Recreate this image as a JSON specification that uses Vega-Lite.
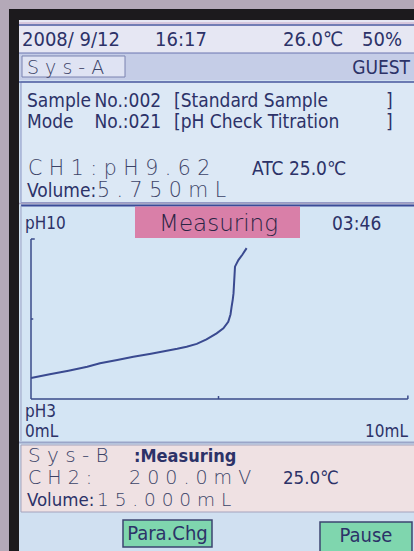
{
"$schema":"https://vega.github.io/schema/vega-lite/v6.json",
"width":414,"height":551,"padding":0,"autosize":"none",
"background":"#b4a9b8",
"config":{"view":{"stroke":null},"axis":{"disable":true},"text":{"font":"DejaVu Sans Condensed, sans-serif","color":"#2c3268","align":"left","baseline":"alphabetic"}},
"data":{"values":[{}]},
"layer":[
{"mark":{"type":"rect","fill":"#1c1a1d"},"encoding":{"x":{"datum":-0.5867,"type":"quantitative","scale":{"domain":[-0.82667,10.21333],"nice":false,"zero":false},"axis":null},"x2":{"datum":10.2133},"y":{"datum":20.0625,"type":"quantitative","scale":{"domain":[-3.65,20.45625],"nice":false,"zero":false},"axis":null},"y2":{"datum":-3.65}}},
{"mark":{"type":"rect","fill":"#d0e0f1"},"encoding":{"x":{"datum":-0.32,"type":"quantitative"},"x2":{"datum":10.2133},"y":{"datum":19.5813,"type":"quantitative"},"y2":{"datum":-3.65}}},
{"mark":{"type":"rect","fill":"#e6e7f3"},"encoding":{"x":{"datum":-0.32,"type":"quantitative"},"x2":{"datum":10.2133},"y":{"datum":19.5813,"type":"quantitative"},"y2":{"datum":18.1375}}},
{"mark":{"type":"rule","stroke":"#c8a8c8","strokeWidth":1},"encoding":{"x":{"datum":-0.32,"type":"quantitative"},"x2":{"datum":10.2133},"y":{"datum":19.45,"type":"quantitative"}}},
{"mark":{"type":"rule","stroke":"#4a5aa0","strokeWidth":1.5},"encoding":{"x":{"datum":-0.32,"type":"quantitative"},"x2":{"datum":10.2133},"y":{"datum":19.3625,"type":"quantitative"}}},
{"mark":{"type":"rect","fill":"#c5cde7"},"encoding":{"x":{"datum":-0.32,"type":"quantitative"},"x2":{"datum":10.2133},"y":{"datum":18.1375,"type":"quantitative"},"y2":{"datum":16.9563}}},
{"mark":{"type":"rule","stroke":"#6a74b0","strokeWidth":1},"encoding":{"x":{"datum":-0.32,"type":"quantitative"},"x2":{"datum":10.2133},"y":{"datum":18.1375,"type":"quantitative"}}},
{"mark":{"type":"rect","fill":"#dfe3f3","stroke":"#7a82b0","strokeWidth":1},"encoding":{"x":{"datum":-0.24,"type":"quantitative"},"x2":{"datum":2.5067},"y":{"datum":18.0063,"type":"quantitative"},"y2":{"datum":17.0875}}},
{"mark":{"type":"rect","fill":"#dce8f5","stroke":"#8a94c4","strokeWidth":1},"encoding":{"x":{"datum":-0.2667,"type":"quantitative"},"x2":{"datum":10.3},"y":{"datum":16.8688,"type":"quantitative"},"y2":{"datum":11.5938}}},
{"mark":{"type":"rule","stroke":"#5565a5","strokeWidth":1.5},"encoding":{"x":{"datum":-0.32,"type":"quantitative"},"x2":{"datum":10.2133},"y":{"datum":16.8688,"type":"quantitative"}}},
{"mark":{"type":"rect","fill":"#d4e5f4"},"encoding":{"x":{"datum":-0.32,"type":"quantitative"},"x2":{"datum":10.2133},"y":{"datum":11.5,"type":"quantitative"},"y2":{"datum":1.1}}},
{"mark":{"type":"rule","stroke":"#a8a4c4","strokeWidth":1.5},"encoding":{"x":{"datum":-0.32,"type":"quantitative"},"x2":{"datum":10.2133},"y":{"datum":11.55,"type":"quantitative"}}},
{"mark":{"type":"rule","stroke":"#3b4b98","strokeWidth":2},"encoding":{"x":{"datum":-0.2667,"type":"quantitative"},"x2":{"datum":10.2133},"y":{"datum":11.4625,"type":"quantitative"}}},
{"mark":{"type":"rule","stroke":"#9aa0c4","strokeWidth":1},"encoding":{"x":{"datum":-0.2667,"type":"quantitative"},"y":{"datum":11.4625,"type":"quantitative"},"y2":{"datum":1.1625}}},
{"mark":{"type":"rect","fill":"#d97fa8"},"encoding":{"x":{"datum":2.7733,"type":"quantitative"},"x2":{"datum":7.1733},"y":{"datum":11.4188,"type":"quantitative"},"y2":{"datum":10.0438}}},
{"mark":{"type":"rule","stroke":"#9aa5c8","strokeWidth":2},"encoding":{"x":{"datum":-0.32,"type":"quantitative"},"x2":{"datum":10.2133},"y":{"datum":1.1,"type":"quantitative"}}},
{"mark":{"type":"rect","fill":"#efe1e3","stroke":"#a4a2bc","strokeWidth":1},"encoding":{"x":{"datum":-0.2667,"type":"quantitative"},"x2":{"datum":10.3},"y":{"datum":0.9875,"type":"quantitative"},"y2":{"datum":-1.9438}}},
{"mark":{"type":"rect","fill":"#7fd6ae","stroke":"#3c4470","strokeWidth":1.5},"encoding":{"x":{"datum":2.4533,"type":"quantitative"},"x2":{"datum":4.8267},"y":{"datum":-2.2938,"type":"quantitative"},"y2":{"datum":-3.475}}},
{"mark":{"type":"rect","fill":"#7fd6ae","stroke":"#3c4470","strokeWidth":1.5},"encoding":{"x":{"datum":7.7067,"type":"quantitative"},"x2":{"datum":10.16},"y":{"datum":-2.3813,"type":"quantitative"},"y2":{"datum":-3.8}}},
{"mark":{"type":"rule","stroke":"#3a4a8a","strokeWidth":1.5},"encoding":{"x":{"datum":0,"type":"quantitative"},"y":{"datum":3,"type":"quantitative"},"y2":{"datum":10}}},
{"mark":{"type":"rule","stroke":"#3a4a8a","strokeWidth":1.5},"encoding":{"x":{"datum":0,"type":"quantitative"},"x2":{"datum":0.1},"y":{"datum":10,"type":"quantitative"}}},
{"mark":{"type":"rule","stroke":"#3a4a8a","strokeWidth":1.5},"encoding":{"x":{"datum":0,"type":"quantitative"},"x2":{"datum":0.06},"y":{"datum":6.5,"type":"quantitative"}}},
{"mark":{"type":"rule","stroke":"#3a4a8a","strokeWidth":1.5},"encoding":{"x":{"datum":0,"type":"quantitative"},"x2":{"datum":10.05},"y":{"datum":3,"type":"quantitative"}}},
{"mark":{"type":"rule","stroke":"#3a4a8a","strokeWidth":1.5},"encoding":{"x":{"datum":10.05,"type":"quantitative"},"y":{"datum":3,"type":"quantitative"},"y2":{"datum":3.15}}},
{"mark":{"type":"rule","stroke":"#3a4a8a","strokeWidth":1.5},"encoding":{"x":{"datum":5,"type":"quantitative"},"y":{"datum":3,"type":"quantitative"},"y2":{"datum":3.13}}},
{"data":{"values":[
{"volume":0,"pH":3.92},{"volume":0.5,"pH":4.08},{"volume":1.0,"pH":4.24},{"volume":1.5,"pH":4.41},{"volume":1.84,"pH":4.56},{"volume":2.3,"pH":4.71},{"volume":2.73,"pH":4.85},{"volume":3.2,"pH":4.98},{"volume":3.62,"pH":5.11},{"volume":3.9,"pH":5.2},{"volume":4.15,"pH":5.29},{"volume":4.42,"pH":5.41},{"volume":4.68,"pH":5.61},{"volume":4.95,"pH":5.87},{"volume":5.13,"pH":6.09},{"volume":5.26,"pH":6.38},{"volume":5.32,"pH":6.7},{"volume":5.35,"pH":7.04},{"volume":5.38,"pH":7.35},{"volume":5.40,"pH":7.62},{"volume":5.42,"pH":8.2},{"volume":5.44,"pH":8.79},{"volume":5.53,"pH":9.08},{"volume":5.64,"pH":9.32},{"volume":5.75,"pH":9.6}]},
"mark":{"type":"line","stroke":"#3a4a90","strokeWidth":2},"encoding":{"x":{"field":"volume","type":"quantitative"},"y":{"field":"pH","type":"quantitative"}}},
{"mark":{"type":"text","text":"2008/ 9/12","fontSize":20},"encoding":{"x":{"datum":-0.24,"type":"quantitative"},"y":{"datum":18.4438,"type":"quantitative"}}},
{"mark":{"type":"text","text":"16:17","fontSize":20},"encoding":{"x":{"datum":3.3067,"type":"quantitative"},"y":{"datum":18.4438,"type":"quantitative"}}},
{"mark":{"type":"text","text":"26.0℃","fontSize":20},"encoding":{"x":{"datum":6.72,"type":"quantitative"},"y":{"datum":18.4438,"type":"quantitative"}}},
{"mark":{"type":"text","text":"50%","fontSize":20},"encoding":{"x":{"datum":8.8267,"type":"quantitative"},"y":{"datum":18.4438,"type":"quantitative"}}},
{"mark":{"type":"text","text":"S y s - A","fontSize":19,"font":"DejaVu Sans","fontWeight":200,"color":"#3c4468"},"encoding":{"x":{"datum":-0.1067,"type":"quantitative"},"y":{"datum":17.2188,"type":"quantitative"}}},
{"mark":{"type":"text","text":"GUEST","fontSize":19,"align":"right"},"encoding":{"x":{"datum":10.1067,"type":"quantitative"},"y":{"datum":17.2188,"type":"quantitative"}}},
{"mark":{"type":"text","text":"Sample","fontSize":19},"encoding":{"x":{"datum":-0.1067,"type":"quantitative"},"y":{"datum":15.775,"type":"quantitative"}}},
{"mark":{"type":"text","text":"No.:002","fontSize":19},"encoding":{"x":{"datum":1.6933,"type":"quantitative"},"y":{"datum":15.775,"type":"quantitative"}}},
{"mark":{"type":"text","text":"[Standard Sample","fontSize":19},"encoding":{"x":{"datum":3.8133,"type":"quantitative"},"y":{"datum":15.775,"type":"quantitative"}}},
{"mark":{"type":"text","text":"]","fontSize":19},"encoding":{"x":{"datum":9.4667,"type":"quantitative"},"y":{"datum":15.775,"type":"quantitative"}}},
{"mark":{"type":"text","text":"Mode","fontSize":19},"encoding":{"x":{"datum":-0.1067,"type":"quantitative"},"y":{"datum":14.8563,"type":"quantitative"}}},
{"mark":{"type":"text","text":"No.:021","fontSize":19},"encoding":{"x":{"datum":1.6933,"type":"quantitative"},"y":{"datum":14.8563,"type":"quantitative"}}},
{"mark":{"type":"text","text":"[pH Check Titration","fontSize":19},"encoding":{"x":{"datum":3.8133,"type":"quantitative"},"y":{"datum":14.8563,"type":"quantitative"}}},
{"mark":{"type":"text","text":"]","fontSize":19},"encoding":{"x":{"datum":9.4667,"type":"quantitative"},"y":{"datum":14.8563,"type":"quantitative"}}},
{"mark":{"type":"text","text":"C H 1 :  p H  9 . 6 2","fontSize":20.5,"font":"DejaVu Sans","fontWeight":200,"color":"#3c4468"},"encoding":{"x":{"datum":-0.08,"type":"quantitative"},"y":{"datum":12.8,"type":"quantitative"}}},
{"mark":{"type":"text","text":"ATC 25.0℃","fontSize":19},"encoding":{"x":{"datum":5.8933,"type":"quantitative"},"y":{"datum":12.8,"type":"quantitative"}}},
{"mark":{"type":"text","text":"Volume:","fontSize":19},"encoding":{"x":{"datum":-0.1067,"type":"quantitative"},"y":{"datum":11.8375,"type":"quantitative"}}},
{"mark":{"type":"text","text":"5 . 7 5 0  m L","fontSize":20.5,"font":"DejaVu Sans","fontWeight":200,"color":"#3c4468"},"encoding":{"x":{"datum":1.76,"type":"quantitative"},"y":{"datum":11.8375,"type":"quantitative"}}},
{"mark":{"type":"text","text":"pH10","fontSize":17},"encoding":{"x":{"datum":-0.16,"type":"quantitative"},"y":{"datum":10.4375,"type":"quantitative"}}},
{"mark":{"type":"text","text":"Measuring","fontSize":23,"font":"DejaVu Sans","fontWeight":200,"color":"#2a2444","align":"center","baseline":"middle"},"encoding":{"x":{"datum":5.0,"type":"quantitative"},"y":{"datum":10.6344,"type":"quantitative"}}},
{"mark":{"type":"text","text":"03:46","fontSize":19},"encoding":{"x":{"datum":8.0267,"type":"quantitative"},"y":{"datum":10.3938,"type":"quantitative"}}},
{"mark":{"type":"text","text":"pH3","fontSize":17},"encoding":{"x":{"datum":-0.16,"type":"quantitative"},"y":{"datum":2.2125,"type":"quantitative"}}},
{"mark":{"type":"text","text":"0mL","fontSize":17},"encoding":{"x":{"datum":-0.16,"type":"quantitative"},"y":{"datum":1.3375,"type":"quantitative"}}},
{"mark":{"type":"text","text":"10mL","fontSize":17,"align":"right"},"encoding":{"x":{"datum":10.0533,"type":"quantitative"},"y":{"datum":1.3375,"type":"quantitative"}}},
{"mark":{"type":"text","text":"S y s - B","fontSize":20,"font":"DejaVu Sans","fontWeight":200,"color":"#3c4468"},"encoding":{"x":{"datum":-0.08,"type":"quantitative"},"y":{"datum":0.2438,"type":"quantitative"}}},
{"mark":{"type":"text","text":":Measuring","fontSize":18,"fontWeight":"bold"},"encoding":{"x":{"datum":2.7467,"type":"quantitative"},"y":{"datum":0.2438,"type":"quantitative"}}},
{"mark":{"type":"text","text":"C H 2 :","fontSize":19,"font":"DejaVu Sans","fontWeight":200,"color":"#3c4468"},"encoding":{"x":{"datum":-0.08,"type":"quantitative"},"y":{"datum":-0.7406,"type":"quantitative"}}},
{"mark":{"type":"text","text":"2 0 0 . 0 m V","fontSize":19,"font":"DejaVu Sans","fontWeight":200,"color":"#3c4468"},"encoding":{"x":{"datum":2.6133,"type":"quantitative"},"y":{"datum":-0.7406,"type":"quantitative"}}},
{"mark":{"type":"text","text":"25.0℃","fontSize":18.5},"encoding":{"x":{"datum":6.72,"type":"quantitative"},"y":{"datum":-0.7406,"type":"quantitative"}}},
{"mark":{"type":"text","text":"Volume:","fontSize":18.5},"encoding":{"x":{"datum":-0.1067,"type":"quantitative"},"y":{"datum":-1.7031,"type":"quantitative"}}},
{"mark":{"type":"text","text":"1 5 . 0 0 0  m L","fontSize":18.5,"font":"DejaVu Sans","fontWeight":200,"color":"#3c4468"},"encoding":{"x":{"datum":1.76,"type":"quantitative"},"y":{"datum":-1.7031,"type":"quantitative"}}},
{"mark":{"type":"text","text":"Para.Chg","fontSize":20,"align":"center","baseline":"middle"},"encoding":{"x":{"datum":3.64,"type":"quantitative"},"y":{"datum":-2.9063,"type":"quantitative"}}},
{"mark":{"type":"text","text":"Pause","fontSize":20,"align":"center","baseline":"middle"},"encoding":{"x":{"datum":8.9333,"type":"quantitative"},"y":{"datum":-2.99,"type":"quantitative"}}}
]
}
